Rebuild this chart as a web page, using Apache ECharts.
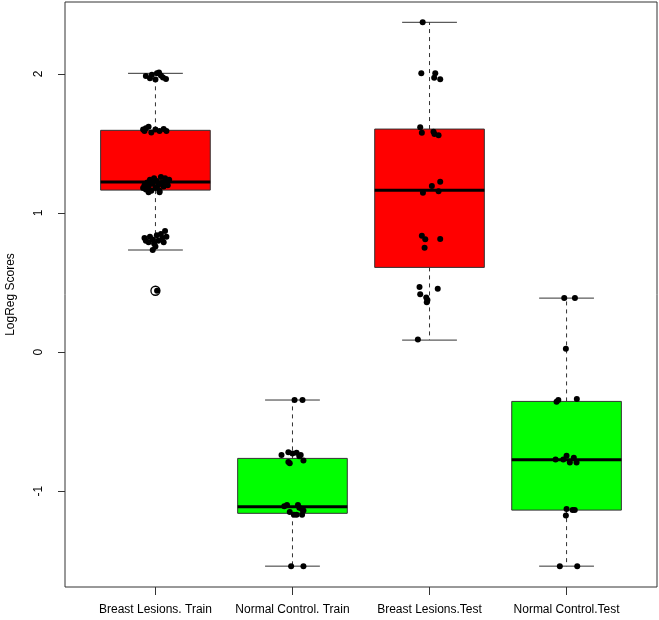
<!DOCTYPE html>
<html>
<head>
<meta charset="utf-8">
<script src="https://cdn.jsdelivr.net/npm/echarts@6/dist/echarts.min.js"></script>
<style>
  html, body { margin: 0; padding: 0; background: #fff; }
  #chart { width: 659px; height: 620px; }
</style>
</head>
<body>
<div id="chart"></div>
<script>
// group names on the x axis
var categories = ['Breast Lesions. Train', 'Normal Control. Train', 'Breast Lesions.Test', 'Normal Control.Test']
// [lower whisker, Q1, median, Q3, upper whisker]
var boxStats = [
  [0.734, 1.165, 1.223, 1.595, 2.005],
  [-1.540, -1.160, -1.113, -0.765, -0.345],
  [0.086, 0.609, 1.163, 1.604, 2.372],
  [-1.540, -1.137, -0.775, -0.355, 0.388]
]
var boxColors = ['#ff0000', '#00ff00', '#ff0000', '#00ff00']
// [group, value]
var outliers = [[1, 0.441]]
// jittered points: [offset from group centre, value]
var breastTrainPts = [
  [-0.07, 1.985], [-0.04, 1.97], [-0.026, 1.995], [0.011, 2.005], [0.026, 2.01], [0.04, 1.99], [0.055, 1.975], [0.077, 1.965], [0.0, 1.96],
  [-0.09, 1.6], [-0.07, 1.61], [-0.05, 1.62], [-0.03, 1.58], [0.0, 1.6], [0.03, 1.59], [0.06, 1.605], [0.08, 1.59], [-0.08, 1.59],
  [-0.09, 1.18], [-0.08, 1.2], [-0.07, 1.17], [-0.06, 1.22], [-0.05, 1.19], [-0.04, 1.24], [-0.03, 1.16], [-0.02, 1.21], [-0.01, 1.25],
  [0.0, 1.18], [0.01, 1.23], [0.02, 1.2], [0.03, 1.16], [0.04, 1.26], [0.05, 1.22], [0.06, 1.19], [0.07, 1.25], [0.08, 1.23],
  [0.09, 1.2], [0.1, 1.24], [-0.05, 1.15], [0.03, 1.15],
  [-0.08, 0.82], [-0.07, 0.8], [-0.05, 0.79], [-0.04, 0.83], [-0.02, 0.81], [-0.01, 0.78], [0.01, 0.84], [0.02, 0.8], [0.04, 0.85],
  [0.05, 0.82], [0.07, 0.87], [0.08, 0.83], [0.06, 0.79], [0.0, 0.76], [-0.02, 0.734], [0.012, 0.441]
]
var normalTrainPts = [
  [0.015, -0.345], [0.073, -0.345],
  [-0.08, -0.74], [-0.03, -0.72], [0.0, -0.73], [0.03, -0.725], [0.05, -0.75], [-0.03, -0.79], [-0.02, -0.8], [0.08, -0.78], [0.06, -0.74],
  [-0.06, -1.11], [-0.04, -1.1], [0.04, -1.1], [0.05, -1.12], [0.07, -1.13], [0.08, -1.14], [-0.02, -1.15], [0.01, -1.17], [0.03, -1.17], [0.07, -1.17],
  [-0.01, -1.54], [0.08, -1.54]
]
var breastTestPts = [
  [-0.05, 2.372], [-0.06, 2.005], [0.042, 2.005], [0.034, 1.974], [0.078, 1.962],
  [-0.068, 1.617], [-0.056, 1.578], [0.029, 1.585], [0.036, 1.568], [0.066, 1.559],
  [0.078, 1.225], [0.017, 1.194], [0.066, 1.156], [-0.048, 1.146],
  [-0.056, 0.837], [-0.031, 0.811], [0.078, 0.813], [-0.036, 0.750],
  [-0.073, 0.468], [0.06, 0.455], [-0.068, 0.415], [-0.024, 0.393], [-0.015, 0.374], [-0.02, 0.358], [-0.085, 0.091]
]
var normalTestPts = [
  [-0.017, 0.388], [0.061, 0.388], [-0.005, 0.024],
  [-0.073, -0.357], [-0.06, -0.345], [0.075, -0.338],
  [-0.08, -0.772], [-0.024, -0.772], [0.0, -0.746], [0.024, -0.794], [0.053, -0.760], [0.073, -0.794],
  [0.0, -1.129], [0.044, -1.137], [0.06, -1.137], [-0.005, -1.175],
  [-0.049, -1.540], [0.078, -1.540]
]
var yTicks = [-1, 0, 1, 2]

var groups = [breastTrainPts, normalTrainPts, breastTestPts, normalTestPts]
var points = []
groups.forEach(function(g, i) {
  g.forEach(function(p) { points.push([i + 1 + p[0], p[1]]) })
})

var font = 'Liberation Sans, Arial, sans-serif'
var chart = echarts.init(document.getElementById('chart'))
chart.setOption({
  animation: false,
  grid: {
    left: 65,
    right: 2,
    top: 2,
    bottom: 33,
    outerBoundsMode: 'none',
    containLabel: false,
    show: true,
    borderColor: '#333',
    borderWidth: 1
  },
  xAxis: {
    type: 'value',
    min: 0.34,
    max: 4.66,
    splitLine: { show: false },
    axisLine: { show: false, onZero: false },
    axisTick: { show: true, length: 8, customValues: [1, 2, 3, 4], lineStyle: { color: '#333' } },
    axisLabel: {
      customValues: [1, 2, 3, 4],
      margin: 17,
      fontSize: 12,
      color: '#000',
      fontFamily: font,
      formatter: function(v) { return categories[Math.round(v) - 1] }
    }
  },
  yAxis: {
    type: 'value',
    min: -1.69,
    max: 2.518,
    name: 'LogReg Scores',
    nameLocation: 'middle',
    nameRotate: 90,
    nameGap: 48,
    nameTextStyle: { fontSize: 12, color: '#000', fontFamily: font },
    splitLine: { show: false },
    axisLine: { show: false, onZero: false },
    axisTick: { show: true, length: 7, customValues: yTicks, lineStyle: { color: '#333' } },
    axisLabel: {
      customValues: yTicks,
      rotate: 90,
      margin: 20,
      fontSize: 12,
      color: '#000',
      fontFamily: font
    }
  },
  series: [
    {
      type: 'custom',
      z: 1,
      data: boxStats.map(function(s, i) { return [i + 1].concat(s) }),
      renderItem: function(params, api) {
        var x = api.value(0)
        var lo = api.coord([x, api.value(1)])
        var q1 = api.coord([x, api.value(2)])
        var med = api.coord([x, api.value(3)])
        var q3 = api.coord([x, api.value(4)])
        var hi = api.coord([x, api.value(5)])
        var half = api.size([0.8, 0])[0] / 2
        var cap = half / 2
        var cx = lo[0]
        var dash = { stroke: '#333', lineWidth: 1, lineDash: [4, 4] }
        var solid = { stroke: '#333', lineWidth: 1 }
        return {
          type: 'group',
          children: [
            { type: 'line', shape: { x1: cx, y1: q3[1], x2: cx, y2: hi[1] }, style: dash },
            { type: 'line', shape: { x1: cx, y1: q1[1], x2: cx, y2: lo[1] }, style: dash },
            { type: 'line', shape: { x1: cx - cap, y1: hi[1], x2: cx + cap, y2: hi[1] }, style: solid },
            { type: 'line', shape: { x1: cx - cap, y1: lo[1], x2: cx + cap, y2: lo[1] }, style: solid },
            {
              type: 'rect',
              shape: { x: cx - half, y: q3[1], width: half * 2, height: q1[1] - q3[1] },
              style: { fill: boxColors[params.dataIndex], stroke: '#333', lineWidth: 1 }
            },
            { type: 'line', shape: { x1: cx - half, y1: med[1], x2: cx + half, y2: med[1] }, style: { stroke: '#000', lineWidth: 3 } }
          ]
        }
      }
    },
    {
      type: 'scatter',
      z: 5,
      symbol: 'circle',
      symbolSize: 9,
      itemStyle: { color: 'rgba(0,0,0,0)', borderColor: '#000', borderWidth: 1.3, opacity: 1 },
      data: outliers
    },
    {
      type: 'scatter',
      z: 4,
      symbolSize: 6,
      itemStyle: { color: '#000', opacity: 1 },
      data: points
    }
  ]
})
</script>
</body>
</html>
